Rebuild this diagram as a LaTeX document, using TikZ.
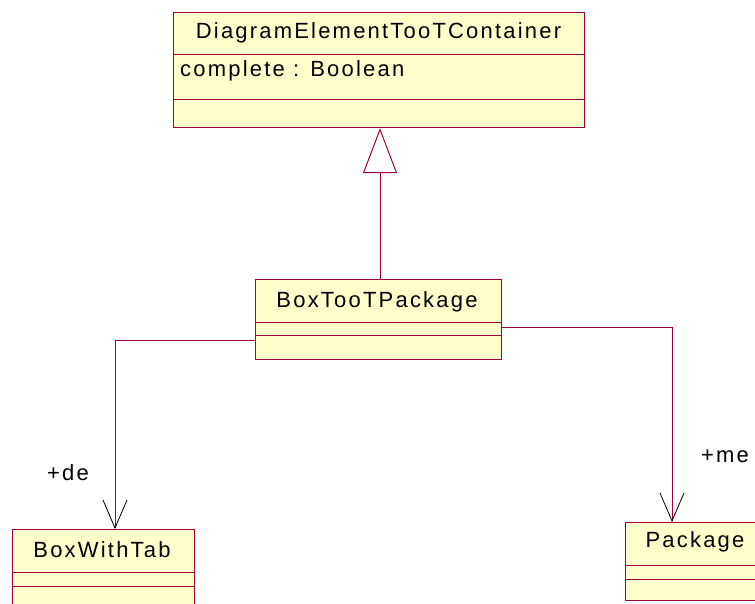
\documentclass[tikz,border=0pt]{standalone}
\usepackage{fontspec}
\setmainfont{Liberation Sans}[LetterSpace=10]
\usetikzlibrary{arrows.meta,calc}
\definecolor{umlline}{RGB}{160,0,60}
\definecolor{umlfill}{RGB}{255,255,204}
\tikzset{
  umlbox/.style={draw=umlline, fill=umlfill, line width=1.1pt, inner sep=0pt, anchor=north west},
  divider/.style={draw=umlline, line width=0.9pt},
  lbl/.style={inner sep=0pt, font=\fontsize{22}{26}\selectfont, text=black},
  assoc/.style={draw=umlline, line width=1pt, -{Straight Barb[length=28pt,width=24pt,color=black,line width=0.8pt]}},
  gener/.style={draw=umlline, line width=1pt, -{Triangle[open,length=45pt,width=34pt,fill=white,line width=1pt]}}
}
\begin{document}
\begin{tikzpicture}[x=1pt,y=-1pt]
\useasboundingbox (0,0) rectangle (755,604);
\clip (0,0) rectangle (755,604);
% top class
\node[umlbox, minimum width=411pt, minimum height=115pt] (top) at (173,12) {};
\draw[divider] (173,54) -- (584,54);
\draw[divider] (173,99) -- (584,99);
\node[lbl] (topname) at (378.5,33) {DiagramElementTooTContainer};
\node[lbl, anchor=west] (topattr) at (180,71) {complete : Boolean};
% middle class
\node[umlbox, minimum width=246pt, minimum height=80pt] (pkg) at (255,279) {};
\draw[divider] (255,322) -- (501,322);
\draw[divider] (255,335) -- (501,335);
\node[lbl] (pkgname) at (377,302) {BoxTooTPackage};
% BoxWithTab
\node[umlbox, minimum width=182pt, minimum height=100pt] (bwt) at (12,529) {};
\draw[divider] (12,572) -- (194,572);
\draw[divider] (12,586) -- (194,586);
\node[lbl] (bwtname) at (102,550) {BoxWithTab};
% Package
\node[umlbox, minimum width=160pt, minimum height=78pt] (pk) at (625,522) {};
\draw[divider] (625,565) -- (785,565);
\draw[divider] (625,579) -- (785,579);
\node[lbl] (pkname) at (695,542) {Package};
% connectors
\coordinate (gl) at (380,0);
\draw[gener] (gl |- pkg.north) -- (gl |- top.south);
\coordinate (lbend) at (115,340);
\draw[assoc] (pkg.west |- lbend) -- (lbend) -- (lbend |- bwt.north);
\coordinate (rbend) at (672,327);
\draw[assoc] (pkg.east |- rbend) -- (rbend) -- (rbend |- pk.north);
\node[lbl] (de) at (68,473) {+de};
\node[lbl] (me) at (725,456) {+me};
\end{tikzpicture}
\end{document}
